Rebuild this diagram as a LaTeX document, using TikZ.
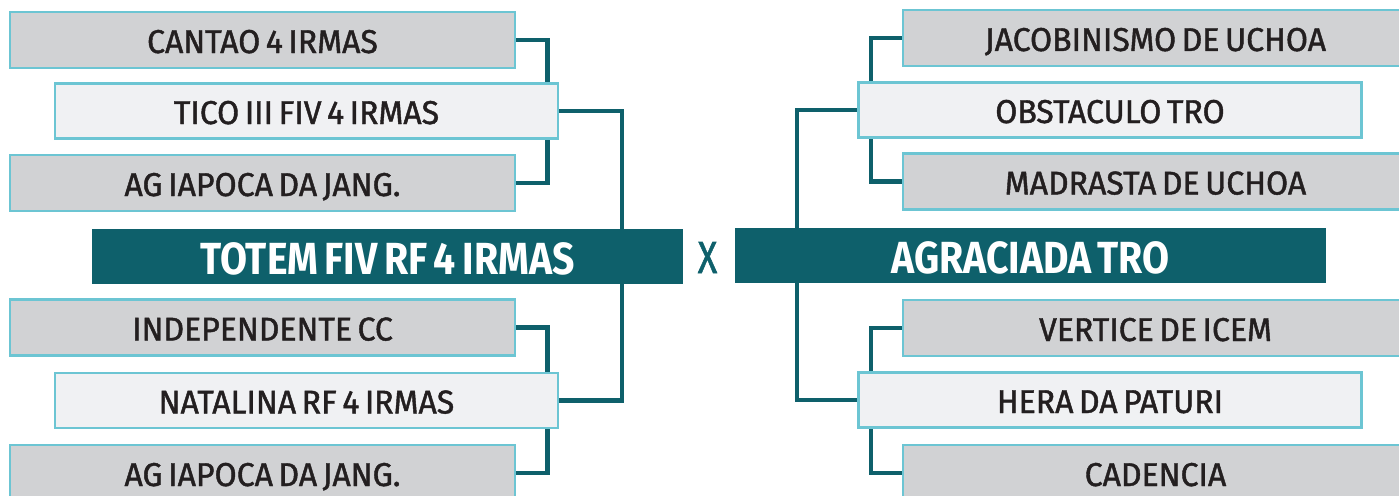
\documentclass[tikz,border=0pt]{standalone}
\usepackage{fontspec}
\setmainfont[FakeStretch=0.85]{Fira Sans}
\newfontfamily\boxfont[FakeStretch=0.97, FakeBold=1.3, WordSpace=0.65]{Fira Sans}
\newfontfamily\titlefont[FakeStretch=0.87, WordSpace=0.7]{Fira Sans}
\newfontfamily\vsfont[FakeStretch=0.8, FakeBold=1.2]{Fira Sans}
\usetikzlibrary{backgrounds}
\definecolor{teal}{HTML}{0E606B}
\definecolor{cyanb}{HTML}{6CC5D3}
\definecolor{grayf}{HTML}{D1D2D4}
\definecolor{lightf}{HTML}{F0F1F3}
\definecolor{txt}{HTML}{231F20}
\tikzset{
  horse/.style={draw=cyanb, line width=2.5pt, inner sep=0pt, text=txt,
    font=\boxfont\fontsize{33}{33}\selectfont, text height=26pt, text depth=0pt},
  grayb/.style={horse, fill=grayf, minimum width=505pt, minimum height=56pt},
  lightb/.style={horse, fill=lightf, minimum width=503pt, minimum height=55pt},
  finalb/.style={fill=teal, inner sep=0pt, text=white, minimum width=591pt, minimum height=55pt,
    font=\titlefont\bfseries\fontsize{45}{45}\selectfont, text height=35pt, text depth=0pt},
  link/.style={draw=teal, line width=4.5pt}
}
\begin{document}
\begin{tikzpicture}[x=1pt,y=-1pt]
\useasboundingbox (0,0) rectangle (1399,495);
% left
\node[grayb]  (cantao) at (262.5,40)   {CANTAO 4 IRMAS};
\node[lightb] (tico)   at (306.5,111)  {TICO III FIV 4 IRMAS};
\node[grayb]  (ag1)    at (262.5,183)  {AG IAPOCA DA JANG.};
\node[finalb] (totem)  at (387.5,256.5){TOTEM FIV RF 4 IRMAS};
\node[grayb]  (indep)  at (262.5,327.5){INDEPENDENTE CC};
\node[lightb] (natal)  at (306.5,400.5){NATALINA RF 4 IRMAS};
\node[grayb]  (ag2)    at (262.5,473)  {AG IAPOCA DA JANG.};
% right
\node[grayb]  (jacob)  at (1155.5,38)  {JACOBINISMO DE UCHOA};
\node[lightb] (obst)   at (1110,110)   {OBSTACULO TRO};
\node[grayb]  (madr)   at (1155.5,181.5){MADRASTA DE UCHOA};
\node[finalb] (agra)   at (1030.5,255.5){AGRACIADA TRO};
\node[grayb]  (vert)   at (1155.5,328) {VERTICE DE ICEM};
\node[lightb] (hera)   at (1110,400)   {HERA DA PATURI};
\node[grayb]  (cad)    at (1155.5,473) {CADENCIA};
\node[text=teal, inner sep=0pt, font=\vsfont\fontsize{45}{45}\selectfont, text height=31pt, text depth=0pt] (vs) at (707.5,257.5) {X};
\begin{pgfonlayer}{background}
\draw[link] (cantao.east) -| ([xshift=31pt]ag1.east) -- (ag1.east);
\draw[link] (tico.east) -| ([xshift=234.5pt]totem.north);
\draw[link] ([xshift=234.5pt]totem.south) |- (natal.east);
\draw[link] (indep.east) -| ([xshift=31pt]ag2.east) -- (ag2.east);
\draw[link] (jacob.west) -| ([xshift=-31pt]madr.west) -- (madr.west);
\draw[link] (obst.west) -| ([xshift=-233.5pt]agra.north);
\draw[link] ([xshift=-233.5pt]agra.south) |- (hera.west);
\draw[link] (vert.west) -| ([xshift=-31pt]cad.west) -- (cad.west);
\end{pgfonlayer}
\end{tikzpicture}
\end{document}
